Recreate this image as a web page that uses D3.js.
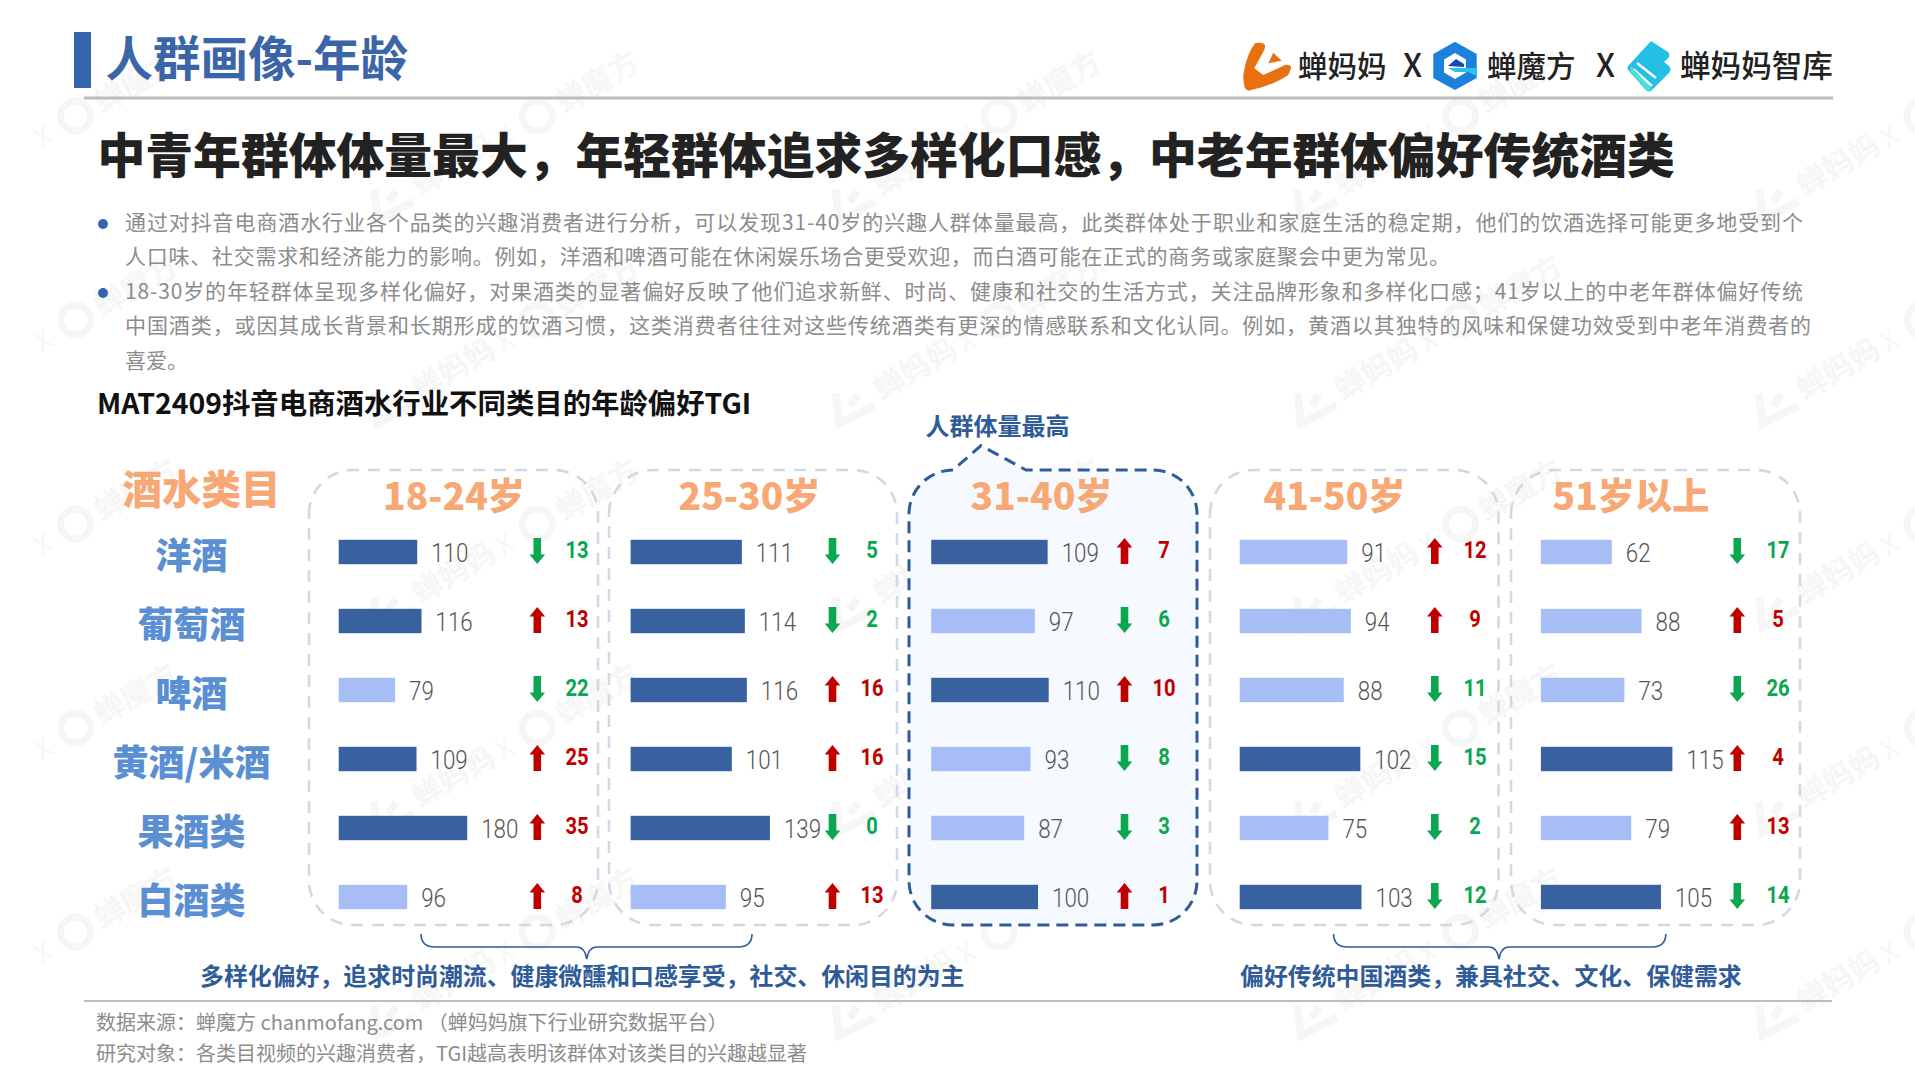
<!DOCTYPE html>
<html lang="zh"><head><meta charset="utf-8">
<script src="https://cdn.jsdelivr.net/npm/d3@7/dist/d3.min.js"></script>
<style>
html,body{margin:0;padding:0;background:#fff;overflow:hidden}
svg{display:block}
text{font-family:"Noto Sans CJK SC","Noto Sans",sans-serif}
.num{font-family:Roboto,"Liberation Sans",sans-serif}
</style></head><body><svg id="c" width="1915" height="1080"></svg>
<script>
const categories=["洋酒","葡萄酒","啤酒","黄酒/米酒","果酒类","白酒类"];
const ageGroups=["18-24岁","25-30岁","31-40岁","41-50岁","51岁以上"];
const tgi1824=[110,116,79,109,180,96];
const tgi2530=[111,114,116,101,139,95];
const tgi3140=[109,97,110,93,87,100];
const tgi4150=[91,94,88,102,75,103];
const tgi51=[62,88,73,115,79,105];
const diff1824=[13,13,22,25,35,8];
const diff2530=[5,2,16,16,0,13];
const diff3140=[7,6,10,8,3,1];
const diff4150=[12,9,11,15,2,12];
const diff51=[17,5,26,4,13,14];
const dir1824=["down","up","down","up","up","up"];
const dir2530=["down","down","up","up","down","up"];
const dir3140=["up","down","up","down","down","up"];
const dir4150=["up","up","down","down","down","down"];
const dir51=["down","up","down","up","up","down"];
const titleText="人群画像-年龄";
const headline="中青年群体体量最大，年轻群体追求多样化口感，中老年群体偏好传统酒类";
const paragraphLines=[
"通过对抖音电商酒水行业各个品类的兴趣消费者进行分析，可以发现31-40岁的兴趣人群体量最高，此类群体处于职业和家庭生活的稳定期，他们的饮酒选择可能更多地受到个",
"人口味、社交需求和经济能力的影响。例如，洋酒和啤酒可能在休闲娱乐场合更受欢迎，而白酒可能在正式的商务或家庭聚会中更为常见。",
"18-30岁的年轻群体呈现多样化偏好，对果酒类的显著偏好反映了他们追求新鲜、时尚、健康和社交的生活方式，关注品牌形象和多样化口感；41岁以上的中老年群体偏好传统",
"中国酒类，或因其成长背景和长期形成的饮酒习惯，这类消费者往往对这些传统酒类有更深的情感联系和文化认同。例如，黄酒以其独特的风味和保健功效受到中老年消费者的",
"喜爱。"];
const chartTitle="MAT2409抖音电商酒水行业不同类目的年龄偏好TGI";
const callout="人群体量最高";
const headerCategory="酒水类目";
const noteLeft="多样化偏好，追求时尚潮流、健康微醺和口感享受，社交、休闲目的为主";
const noteRight="偏好传统中国酒类，兼具社交、文化、保健需求";
const source1="数据来源：蝉魔方 chanmofang.com （蝉妈妈旗下行业研究数据平台）";
const source2="研究对象：各类目视频的兴趣消费者，TGI越高表明该群体对该类目的兴趣越显著";

const tgiSeries=[tgi1824,tgi2530,tgi3140,tgi4150,tgi51];
const diffSeries=[diff1824,diff2530,diff3140,diff4150,diff51];
const dirSeries=[dir1824,dir2530,dir3140,dir4150,dir51];
// layout of the five panels
const layout=[
 {x0:309,x1:598,bar:338.7,w:128.5,head:454,arrow:537.3,delta:577},
 {x0:609,x1:897,bar:630.6,w:139.3,head:749.5,arrow:832.5,delta:872},
 {x0:909,x1:1197,bar:931.2,w:117.5,head:1041.5,arrow:1124.5,delta:1164},
 {x0:1210,x1:1498.5,bar:1239.7,w:121.8,head:1334.5,arrow:1434.8,delta:1475},
 {x0:1511,x1:1800,bar:1540.9,w:131.5,head:1631,arrow:1737.3,delta:1778}];
const DARK="#37629f",LIGHT="#a7bdf6",RED="#c00000",GREEN="#0aa650",ORANGE="#f7a874",BLUE="#2f5c98",CAT="#5b8fd3",GREY="#8c8c8c";
const panelTop=470,panelBottom=925,radius=44;
const svg=d3.select("#c");
function condense(sel,f){
  sel.each(function(){
    const L=this.getComputedTextLength();
    this.setAttribute("textLength",L*f);
    this.setAttribute("lengthAdjust","spacingAndGlyphs");
  });
}

// watermark
const wm=svg.append("g").attr("id","watermark");
const wmColor="#f6f6f6";
d3.range(0,5).forEach(c=>d3.range(0,5).forEach(r=>{
  const x=75.7+c*461.6,y=116+r*204;
  const g=wm.append("g").attr("transform",`translate(${x},${y}) rotate(-30)`);
  g.append("circle").attr("r",15).attr("fill","none").attr("stroke",wmColor).attr("stroke-width",7);
  g.append("path").attr("d","M-178 -18 L-190 10 L-150 12 M-172 0 L-160 -6").attr("fill","none").attr("stroke",wmColor).attr("stroke-width",8);
  g.append("text").attr("x",24).attr("y",11).attr("font-size",30).attr("font-weight",700).attr("fill",wmColor).text("蝉魔方");
  g.append("text").attr("x",-142).attr("y",11).attr("font-size",30).attr("font-weight",700).attr("fill",wmColor).text("蝉妈妈");
  g.append("text").attr("x",-46).attr("y",11).attr("font-size",26).attr("fill",wmColor).text("X");
}));
wm.selectAll("text").each(function(){
  const b=this.getBoundingClientRect();
  if(b.left<0||b.top<0||b.right>1915||b.bottom>1080) this.remove();
});

// title bar
svg.append("rect").attr("x",74).attr("y",32).attr("width",17).attr("height",56).attr("fill","#3565ad");
svg.append("text").attr("x",105.5).attr("y",76).attr("font-size",47.5).attr("font-weight",700).attr("fill","#3a66a8").text(titleText);
svg.append("line").attr("x1",84).attr("x2",1833).attr("y1",98).attr("y2",98).attr("stroke","#bdbdbd").attr("stroke-width",3);

// logos
const logos=svg.append("g");
logos.append("path").attr("d","M1255 43.3 C1260 42 1266 43 1265 47 L1264.3 50 L1254.3 68.3 L1263.3 75 L1285 65 C1288 64 1292 66 1291 68.3 L1288.3 75 C1276 83 1262 88 1248.3 90.7 C1245 89 1244 87 1244.3 85 C1243 78 1243 74 1244.3 70 C1246 60 1250 50 1255 43.3Z").attr("fill","#e8700f");
logos.append("path").attr("d","M1273.3 52.7 L1281.7 60.7 L1268.3 63.3Z").attr("fill","#e8700f");
logos.append("path").attr("d","M1455 41.7 L1476.7 54 L1476.7 78 L1455 90 L1433.3 78 L1433.3 54Z").attr("fill","#1b82dc");
logos.append("path").attr("d","M1455 53 L1466 59.5 L1466 72.5 L1455 79 L1444 72.5 L1444 59.5Z").attr("fill","#fff");
logos.append("path").attr("d","M1448 66 L1456 59 L1464 64 L1464 67 Z").attr("fill","#1449b8");
logos.append("path").attr("d","M1448 68 L1476.7 68 L1476.7 76 L1468 72 L1455 72Z").attr("fill","#29c2ec");
logos.append("path").attr("d","M1651 41 L1668 52 C1670 54 1670 57 1667 59 L1664 62 L1669 66 C1671 68 1671 71 1669 73 L1652 90 C1650 92 1648 92 1646 90 L1629 71 C1627 69 1627 67 1629 65Z").attr("fill","#25bfe6");
logos.append("path").attr("d","M1637 63 L1656 78 M1633 69 L1652 86").attr("stroke","#fff").attr("stroke-width",2.4).attr("fill","none");
logos.append("path").attr("d","M1630 71 L1648 91 L1652 89 L1631 66Z").attr("fill","#4fe0d6");
const logoText=[["蝉妈妈",1298,29.5],["X",1403,32],["蝉魔方",1487,29.5],["X",1596,32],["蝉妈妈智库",1680,30.6]];
logos.selectAll("text").data(logoText).join("text").attr("x",d=>d[1]).attr("y",77).attr("font-size",d=>d[2]).attr("font-weight",500).attr("fill","#222").text(d=>d[0]);

// headline
svg.append("text").attr("x",97.5).attr("y",173).attr("font-size",47.8).attr("font-weight",900).attr("fill","#222").text(headline);

// paragraph
const lineYs=[224,258,293,327,362],lineW=[1678,1325,1678,1686,null];
paragraphLines.forEach((t,i)=>{
  const s=svg.append("text").attr("x",125).attr("y",lineYs[i]+6).attr("font-size",21).attr("fill",GREY).text(t);
  if(lineW[i]) s.attr("textLength",lineW[i]).attr("lengthAdjust","spacing");
});
[224,293].forEach(y=>svg.append("circle").attr("cx",103).attr("cy",y).attr("r",5).attr("fill","#3565ad"));

// chart title
svg.append("text").attr("x",97).attr("y",414).attr("font-size",28.4).attr("font-weight",700).attr("fill","#111").text(chartTitle);
svg.append("text").attr("x",997.5).attr("y",435).attr("text-anchor","middle").attr("font-size",24).attr("font-weight",700).attr("fill",BLUE).text(callout);

// panels
layout.forEach((p,i)=>{
  const path=d3.path(),r=radius;
  path.moveTo(p.x0,panelTop+r);
  path.arcTo(p.x0,panelTop,p.x0+r,panelTop,r);
  if(i===2){path.lineTo(981,445.6);path.lineTo(1026,panelTop);}
  path.lineTo(p.x1-r,panelTop);
  path.arcTo(p.x1,panelTop,p.x1,panelTop+r,r);
  path.lineTo(p.x1,panelBottom-r);
  path.arcTo(p.x1,panelBottom,p.x1-r,panelBottom,r);
  path.lineTo(p.x0+r,panelBottom);
  path.arcTo(p.x0,panelBottom,p.x0,panelBottom-r,r);
  path.closePath();
  svg.append("path").attr("d",path.toString())
    .attr("fill",i===2?"#f6f9fe":"none")
    .attr("stroke",i===2?BLUE:"#d2d8e8").attr("stroke-width",i===2?3:2.6)
    .attr("stroke-dasharray",i===2?"12 7":"12 9");
});

// category column
const y=d3.scalePoint().domain(categories).range([552,897]);
svg.append("text").attr("x",201.5).attr("y",504).attr("text-anchor","middle").attr("font-size",39.5).attr("font-weight",900).attr("fill",ORANGE).text(headerCategory);
svg.selectAll(".cat").data(categories).join("text").attr("class","cat")
  .attr("x",191.5).attr("y",d=>y(d)+17).attr("text-anchor","middle").attr("font-size",36).attr("font-weight",900).attr("fill",CAT).text(d=>d);

// columns
const upPath="M0 -13 L7.8 -3.5 L3.8 -3.5 L3.8 13 L-3.8 13 L-3.8 -3.5 L-7.8 -3.5Z";
const downPath="M0 13 L7.8 3.5 L3.8 3.5 L3.8 -13 L-3.8 -13 L-3.8 3.5 L-7.8 3.5Z";
ageGroups.forEach((name,gi)=>{
  const p=layout[gi],vals=tgiSeries[gi];
  const x=d3.scaleLinear().domain([0,d3.max(vals)]).range([0,p.w]);
  const rows=categories.map((c,i)=>({c,v:vals[i],d:diffSeries[gi][i],dir:dirSeries[gi][i]}));
  const g=svg.append("g");
  g.append("text").attr("x",p.head).attr("y",510).attr("text-anchor","middle").attr("font-size",37.2).attr("font-weight",900).attr("fill",ORANGE).text(name);
  g.selectAll("rect").data(rows).join("rect")
    .attr("x",p.bar).attr("y",d=>y(d.c)-12.2).attr("height",24.4)
    .attr("width",d=>x(d.v)).attr("fill",d=>d.v>=100?DARK:LIGHT);
  const vs=g.selectAll(".val").data(rows).join("text").attr("class","val num")
    .attr("x",d=>p.bar+x(d.v)+14).attr("y",d=>y(d.c)+10).attr("font-size",26).attr("font-weight",300).attr("fill","#555").text(d=>d.v);
  condense(vs,0.86);
  g.selectAll(".arrow").data(rows).join("path").attr("class","arrow")
    .attr("transform",d=>`translate(${p.arrow},${y(d.c)-1})`)
    .attr("d",d=>d.dir==="up"?upPath:downPath).attr("fill",d=>d.dir==="up"?RED:GREEN);
  const ds=g.selectAll(".delta").data(rows).join("text").attr("class","delta num")
    .attr("x",p.delta).attr("y",d=>y(d.c)+6).attr("text-anchor","middle").attr("font-size",24).attr("font-weight",700)
    .attr("fill",d=>d.dir==="up"?RED:GREEN).text(d=>d.d);
  condense(ds,0.84);
});

// braces
function brace(a,b,tip){
  const top=934,mid=947,end=959;
  return `M${a} ${top} Q${a} ${mid} ${a+14} ${mid} L${tip-10} ${mid} Q${tip-2} ${mid} ${tip} ${end} Q${tip+2} ${mid} ${tip+10} ${mid} L${b-14} ${mid} Q${b} ${mid} ${b} ${top}`;
}
[[421,752,586.7],[1333.6,1665.8,1499]].forEach(d=>svg.append("path").attr("d",brace(...d)).attr("fill","none").attr("stroke",BLUE).attr("stroke-width",1.6));
svg.append("text").attr("x",200).attr("y",985).attr("font-size",23.9).attr("font-weight",700).attr("fill",BLUE).text(noteLeft);
svg.append("text").attr("x",1240).attr("y",985).attr("font-size",23.9).attr("font-weight",700).attr("fill",BLUE).text(noteRight);

// footer
svg.append("line").attr("x1",84).attr("x2",1832).attr("y1",1001).attr("y2",1001).attr("stroke","#bdbdbd").attr("stroke-width",2);
svg.append("text").attr("x",96).attr("y",1030).attr("font-size",20).attr("fill",GREY).text(source1);
svg.append("text").attr("x",96).attr("y",1061).attr("font-size",20).attr("fill",GREY).text(source2);
</script></body></html>
